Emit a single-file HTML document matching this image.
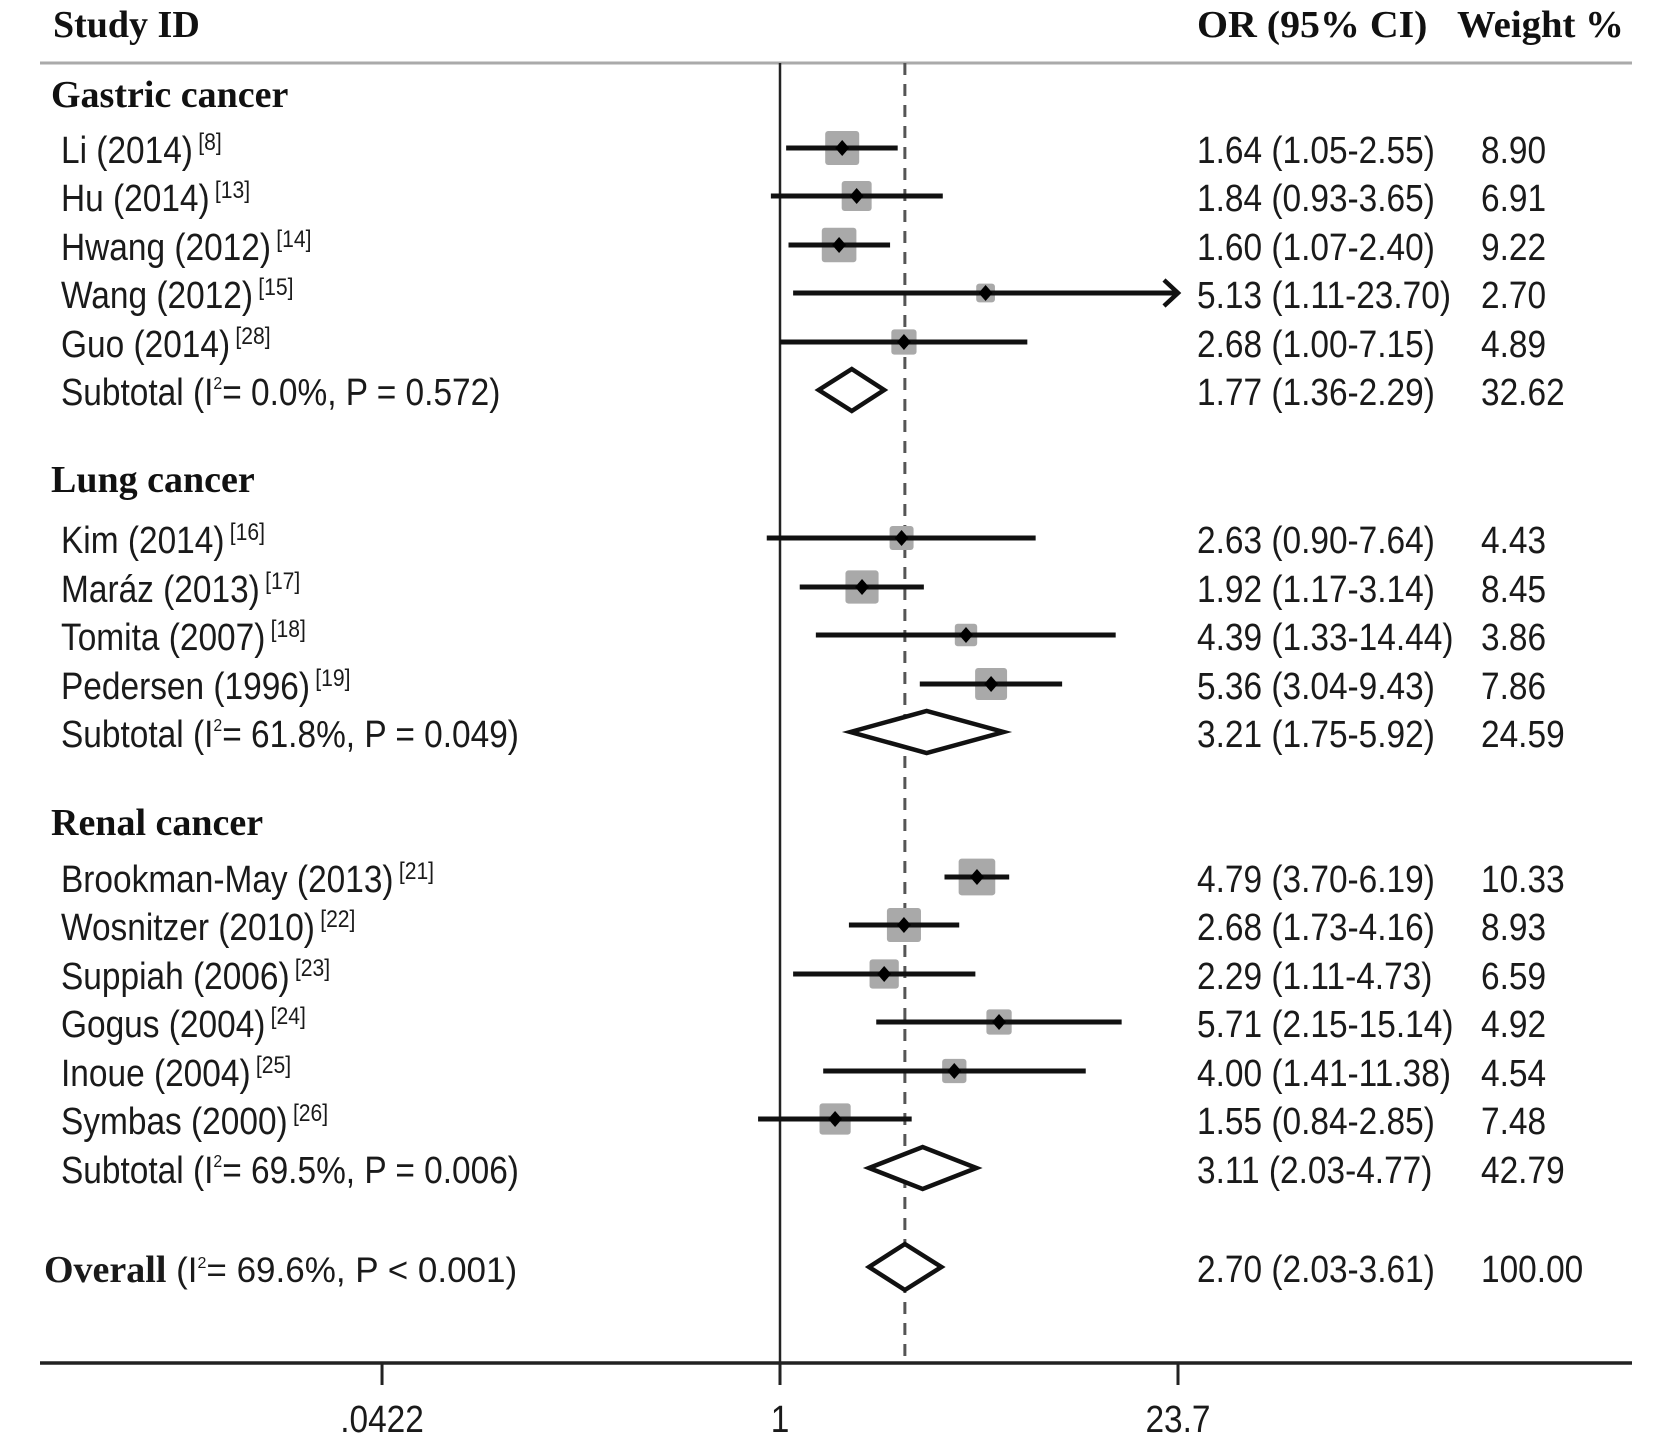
<!DOCTYPE html>
<html><head><meta charset="utf-8"><style>
html,body{margin:0;padding:0;background:#fff;}
svg{display:block;}
.s{font-family:"Liberation Sans",sans-serif;font-size:38px;fill:#1a1a1a;}
.b{font-family:"Liberation Serif",serif;font-weight:bold;font-size:38px;fill:#111;}
.sup{font-size:24px;}
</style></head><body>
<svg id="chart" width="1654" height="1454" viewBox="0 0 1654 1454" xmlns="http://www.w3.org/2000/svg">
<g>
<text class="b" transform="translate(53,37)">Study ID</text>
<text class="b" transform="translate(1197,37) scale(1.05,1)">OR (95% CI)</text>
<text class="b" transform="translate(1457,37) scale(1.02,1)">Weight %</text>
</g>
<line x1="40" y1="63" x2="1632" y2="63" stroke="#aaa" stroke-width="3"/>
<g id="axes"></g>
<g id="marks"></g>
<g id="labels"></g>
</svg>
<script>
// ---- data ----
const studyLabels = ["Li (2014)","Hu (2014)","Hwang (2012)","Wang (2012)","Guo (2014)","Kim (2014)","Maráz (2013)","Tomita (2007)","Pedersen (1996)","Brookman-May (2013)","Wosnitzer (2010)","Suppiah (2006)","Gogus (2004)","Inoue (2004)","Symbas (2000)"];
const studyRefs = ["[8]","[13]","[14]","[15]","[28]","[16]","[17]","[18]","[19]","[21]","[22]","[23]","[24]","[25]","[26]"];
const studyOR = [1.64,1.84,1.60,5.13,2.68,2.63,1.92,4.39,5.36,4.79,2.68,2.29,5.71,4.00,1.55];
const studyLo = [1.05,0.93,1.07,1.11,1.00,0.90,1.17,1.33,3.04,3.70,1.73,1.11,2.15,1.41,0.84];
const studyHi = [2.55,3.65,2.40,23.70,7.15,7.64,3.14,14.44,9.43,6.19,4.16,4.73,15.14,11.38,2.85];
const studyWeight = [8.90,6.91,9.22,2.70,4.89,4.43,8.45,3.86,7.86,10.33,8.93,6.59,4.92,4.54,7.48];
const studyORtext = ["1.64 (1.05-2.55)","1.84 (0.93-3.65)","1.60 (1.07-2.40)","5.13 (1.11-23.70)","2.68 (1.00-7.15)","2.63 (0.90-7.64)","1.92 (1.17-3.14)","4.39 (1.33-14.44)","5.36 (3.04-9.43)","4.79 (3.70-6.19)","2.68 (1.73-4.16)","2.29 (1.11-4.73)","5.71 (2.15-15.14)","4.00 (1.41-11.38)","1.55 (0.84-2.85)"];
const studyWtext = ["8.90","6.91","9.22","2.70","4.89","4.43","8.45","3.86","7.86","10.33","8.93","6.59","4.92","4.54","7.48"];
const subPrefix = ["Subtotal (I","Subtotal (I","Subtotal (I","Overall"];
const subStat = ["= 0.0%, P = 0.572)","= 61.8%, P = 0.049)","= 69.5%, P = 0.006)","= 69.6%, P < 0.001)"];
const subOR = [1.77,3.21,3.11,2.70];
const subLo = [1.36,1.75,2.03,2.03];
const subHi = [2.29,5.92,4.77,3.61];
const subORtext = ["1.77 (1.36-2.29)","3.21 (1.75-5.92)","3.11 (2.03-4.77)","2.70 (2.03-3.61)"];
const subWtext = ["32.62","24.59","42.79","100.00"];
const groupNames = ["Gastric cancer","Lung cancer","Renal cancer"];
const tickValues = [0.0422,1,23.7];
const tickLabels = [".0422","1","23.7"];
const pooledOR = 2.70;

// ---- layout ----
const studyRowY = [148,196,245,293,342,538,587,635,684,877,925,974,1022,1071,1119];
const subRowY = [390,732,1168,1267];
const groupRowY = [95,480,823];
const NS="http://www.w3.org/2000/svg";
const x0=780, unit=289.5, axisY=1363, topY=63, SX=0.88;
function xs(v){return x0+Math.log10(v)*unit;}
function mk(tag,attrs,parent){const e=document.createElementNS(NS,tag);for(const k in attrs)e.setAttribute(k,attrs[k]);parent.appendChild(e);return e;}
const axes=document.getElementById('axes'),marks=document.getElementById('marks'),labels=document.getElementById('labels');

let el;
el=mk('line',{x1:xs(1),y1:topY,x2:xs(1),y2:axisY,stroke:'#222','stroke-width':2.5},axes);


el=mk('line',{x1:xs(pooledOR),y1:topY,x2:xs(pooledOR),y2:axisY,stroke:'#555','stroke-width':3,'stroke-dasharray':'12 9'},axes);


el=mk('line',{x1:40,y1:axisY,x2:1632,y2:axisY,stroke:'#222','stroke-width':3.5},axes);


tickValues.forEach((v,i)=>{
  const t=mk('line',{x1:xs(v),y1:axisY,x2:xs(v),y2:axisY+22,stroke:'#222','stroke-width':3},axes);
  
  
  const l=mk('text',{class:'s',transform:`translate(${xs(v)},1432) scale(${SX},1)`,'text-anchor':'middle'},axes);
  l.textContent=tickLabels[i];
  
  
});

function sText(x,y,txt,name){
  const t=mk('text',{class:'s',transform:`translate(${x},${y}) scale(${SX},1)`},labels);
  t.textContent=txt;
  
  
  return t;
}

groupNames.forEach((g,i)=>{
  const t=mk('text',{class:'b',transform:`translate(51,${groupRowY[i]+12})`},labels);
  t.textContent=g;
  
  
});

studyLabels.forEach((lab,i)=>{
  const y=studyRowY[i];
  const t=mk('text',{class:'s',transform:`translate(61,${y+15}) scale(${SX},1)`},labels);
  
  
  t.appendChild(document.createTextNode(lab));
  const sp=mk('tspan',{class:'sup',dx:6,dy:-13},t); sp.textContent=studyRefs[i];
  sText(1197,y+15,studyORtext[i],'study-or-ci');
  sText(1481,y+15,studyWtext[i],'study-weight');
  const s=34*Math.sqrt(studyWeight[i]/8.9), cx=xs(studyOR[i]);
  const b=mk('rect',{x:cx-s/2,y:y-s/2,width:s,height:s,fill:'#a9a9a9',rx:3},marks);
  
  
  const hiV=studyHi[i], x2=xs(hiV);
  const ln=mk('line',{x1:xs(studyLo[i]),y1:y,x2:x2,y2:y,stroke:'#111','stroke-width':5},marks);
  
  
  if(hiV>=23.7){
    const a=mk('polyline',{points:`${x2-14},${y-13} ${x2},${y} ${x2-14},${y+13}`,fill:'none',stroke:'#111','stroke-width':4.5},marks);
    
    
  }
  const d=mk('polygon',{points:`${cx-7},${y} ${cx},${y-8} ${cx+7},${y} ${cx},${y+8}`,fill:'#000'},marks);
  
  
});

subOR.forEach((v,i)=>{
  const y=subRowY[i], overall=(i===3);
  let t;
  if(overall){
    t=mk('text',{transform:`translate(44,${y+15})`},labels);
    const b=mk('tspan',{},t); b.textContent='Overall';
    b.setAttribute('style','font-family:"Liberation Serif",serif;font-weight:bold;font-size:38px');
    const r=mk('tspan',{style:'font-family:"Liberation Sans",sans-serif;font-size:35px'},t); r.textContent=' (I';
    const s2=mk('tspan',{style:'font-family:"Liberation Sans",sans-serif;font-size:16px',dy:-14},t); s2.textContent='2';
    const r2=mk('tspan',{style:'font-family:"Liberation Sans",sans-serif;font-size:35px',dy:14},t); r2.textContent=subStat[i];
    t.setAttribute('fill','#1a1a1a');
  } else {
    t=mk('text',{class:'s',transform:`translate(61,${y+15}) scale(${SX},1)`},labels);
    t.appendChild(document.createTextNode(subPrefix[i]));
    const s2=mk('tspan',{style:'font-size:18px',dy:-16},t); s2.textContent='2';
    const r2=mk('tspan',{dy:16},t); r2.textContent=subStat[i];
  }
  
  
  sText(1197,y+15,subORtext[i],overall?'overall-or-ci':'subtotal-or-ci');
  sText(1481,y+15,subWtext[i],overall?'overall-weight':'subtotal-weight');
  const h=overall?23:21, l=xs(subLo[i]), c=xs(v), r=xs(subHi[i]);
  const dm=mk('polygon',{points:`${l},${y} ${c},${y-h} ${r},${y} ${c},${y+h}`,fill:'#fff',stroke:'#111','stroke-width':4.5},marks);
  
  
});
</script>
</body></html>
